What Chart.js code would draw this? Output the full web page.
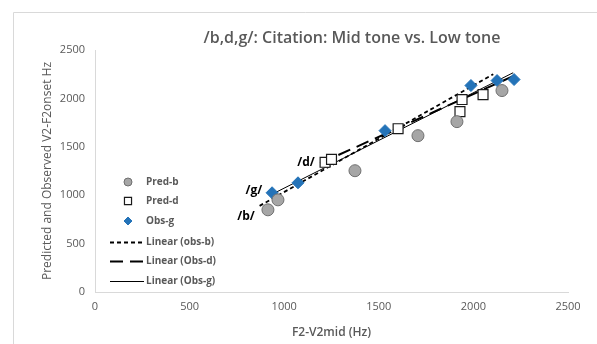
<!DOCTYPE html>
<html>
<head>
<meta charset="utf-8">
<script src="https://cdn.jsdelivr.net/npm/chart.js@4.4.0/dist/chart.umd.min.js"></script>
<style>
  html, body { margin: 0; padding: 0; background: #fff; }
  #wrap { position: relative; width: 597px; height: 344px; }
  canvas { position: absolute; left: 0; top: 0; }
</style>
</head>
<body>
<div id="wrap"><canvas id="chart" width="597" height="344"></canvas></div>
<script>
// values
const predBX = [914, 967, 1374, 1707, 1913, 2151];
const predBY = [849, 952, 1253, 1615, 1760, 2081];

const predDX = [1216, 1250, 1602, 1929, 1940, 2051];
const predDY = [1340, 1370, 1687, 1863, 1988, 2039];

const obsGX = [936, 1073, 1533, 1987, 2125, 2215];
const obsGY = [1025, 1128, 1667, 2133, 2184, 2195];

// trendline ends (Excel linear fits of the observed data)
const trendBX = [870, 2105];
const trendBY = [890, 2250];
const trendDX = [1190, 2210];
const trendDY = [1330, 2230];
const trendGX = [936, 2210];
const trendGY = [1010, 2265];

const xTicks = [0, 500, 1000, 1500, 2000, 2500];
const yTicks = [0, 500, 1000, 1500, 2000, 2500];

const segLabels = ['/b/', '/g/', '/d/'];
const segLabelX = [798, 840, 1115];
const segLabelY = [776, 1046, 1335];

const chartTitle = '/b,d,g/: Citation: Mid tone vs. Low tone';

const pts = (xs, ys) => xs.map((x, i) => ({ x: x, y: ys[i] }));

const grey = '#595959';
const font = '"Open Sans", "Liberation Sans", sans-serif';

const datasets = [
  { label: 'Pred-b', data: pts(predBX, predBY), pointStyle: 'circle', pointRadius: 6,
    backgroundColor: '#a6a6a6', borderColor: '#6f6f6f', borderWidth: 1, order: 1 },
  { label: 'Pred-d', data: pts(predDX, predDY), pointStyle: 'rect', pointRadius: 7,
    backgroundColor: '#ffffff', borderColor: '#1a1a1a', borderWidth: 1.2, order: 1 },
  { label: 'Obs-g', data: pts(obsGX, obsGY), pointStyle: 'rectRot', pointRadius: 6,
    backgroundColor: '#2473b8', borderColor: '#2473b8', borderWidth: 1, order: 1 },
  { label: 'Linear (obs-b)', data: pts(trendBX, trendBY), showLine: true, pointRadius: 0,
    borderColor: '#000', borderWidth: 1.8, borderDash: [4, 3], order: 2 },
  { label: 'Linear (Obs-d)', data: pts(trendDX, trendDY), showLine: true, pointRadius: 0,
    borderColor: '#000', borderWidth: 2, borderDash: [13, 7], order: 2 },
  { label: 'Linear (Obs-g)', data: pts(trendGX, trendGY), showLine: true, pointRadius: 0,
    borderColor: '#000', borderWidth: 1, order: 2 }
];

// title, legend inside the plot, /b/ /g/ /d/ labels and frame
const extras = {
  id: 'extras',
  afterDraw(chart) {
    const ctx = chart.ctx;
    const xs = chart.scales.x, ys = chart.scales.y;
    ctx.save();

    // outer frame (left and top)
    ctx.strokeStyle = '#d9d9d9';
    ctx.lineWidth = 1;
    ctx.beginPath();
    ctx.moveTo(13.5, 344);
    ctx.lineTo(13.5, 12.5);
    ctx.lineTo(597, 12.5);
    ctx.stroke();

    // title, sits right of centre like the original
    ctx.fillStyle = grey;
    ctx.font = '600 16px ' + font;
    ctx.textAlign = 'center';
    ctx.textBaseline = 'middle';
    ctx.fillText(chartTitle, 352, 38);

    // segment labels
    ctx.fillStyle = '#000';
    ctx.font = 'bold 12px ' + font;
    segLabels.forEach((t, i) => {
      ctx.fillText(t, xs.getPixelForValue(segLabelX[i]), ys.getPixelForValue(segLabelY[i]));
    });

    // legend
    const rowY = [182, 201, 221, 242, 261, 281];
    ctx.font = 'bold 10px ' + font;
    ctx.textAlign = 'left';
    chart.data.datasets.forEach((ds, i) => {
      const y = rowY[i];
      if (ds.showLine) {
        ctx.strokeStyle = ds.borderColor;
        ctx.lineWidth = ds.borderWidth;
        ctx.setLineDash(ds.borderDash || []);
        ctx.beginPath();
        ctx.moveTo(110, y + 0.5);
        ctx.lineTo(144, y + 0.5);
        ctx.stroke();
        ctx.setLineDash([]);
      } else {
        ctx.fillStyle = ds.backgroundColor;
        ctx.strokeStyle = ds.borderColor;
        ctx.lineWidth = ds.borderWidth;
        Chart.helpers.drawPoint(ctx, {
          pointStyle: ds.pointStyle,
          radius: ds.pointRadius - 2,
          borderWidth: ds.borderWidth
        }, 128, y);
      }
      ctx.fillStyle = grey;
      ctx.fillText(ds.label, 146, y);
    });
    ctx.restore();
  }
};

new Chart(document.getElementById('chart'), {
  type: 'scatter',
  data: { datasets: datasets },
  options: {
    responsive: false,
    animation: false,
    events: [],
    layout: { padding: { left: 36, right: 29, top: 50, bottom: 0 } },
    plugins: {
      legend: { display: false },
      tooltip: { enabled: false },
      title: { display: false }
    },
    scales: {
      x: {
        type: 'linear',
        min: 0, max: 2500,
        afterBuildTicks: (s) => { s.ticks = xTicks.map(v => ({ value: v })); },
        afterFit: (s) => { s.height = 52; },
        grid: { display: false, drawTicks: false },
        border: { color: '#d9d9d9', width: 1 },
        ticks: { color: grey, font: { family: font, size: 11 }, padding: 8,
                 callback: (v) => String(v) },
        title: {
          display: true, text: 'F2-V2mid (Hz)', color: grey,
          font: { family: font, size: 12, weight: '600' }, padding: { top: 0 }
        }
      },
      y: {
        type: 'linear',
        min: 0, max: 2500,
        afterBuildTicks: (s) => { s.ticks = yTicks.map(v => ({ value: v })); },
        afterFit: (s) => { s.width = 59; },
        grid: { display: false, drawTicks: false },
        border: { color: '#d9d9d9', width: 1 },
        ticks: { color: grey, font: { family: font, size: 11 }, padding: 10,
                 callback: (v) => String(v) },
        title: {
          display: true, text: 'Predicted and Observed V2-F2onset Hz', color: grey,
          font: { family: font, size: 12 }, padding: { bottom: 4 }
        }
      }
    }
  },
  plugins: [extras]
});
</script>
</body>
</html>
